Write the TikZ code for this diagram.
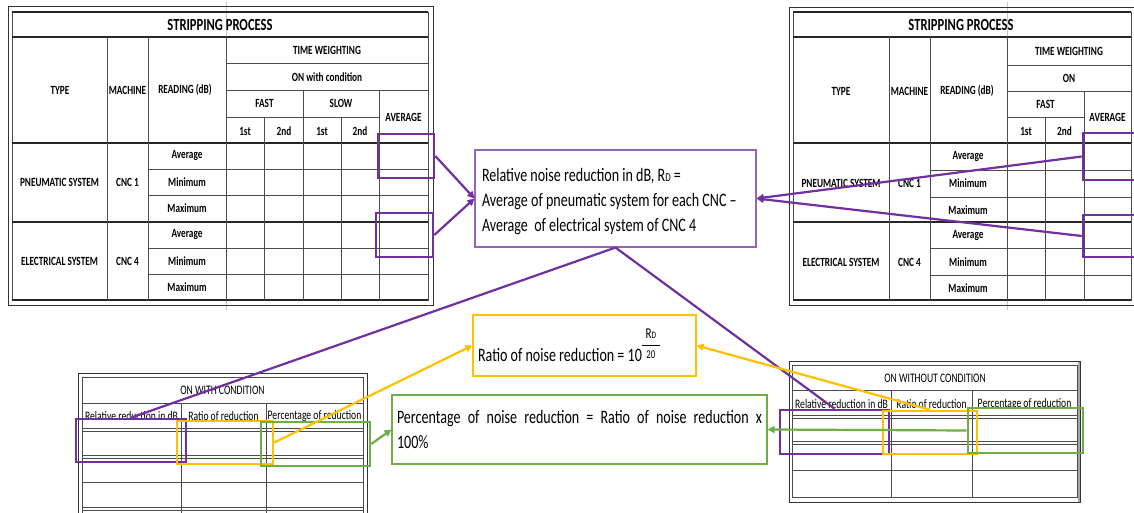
\documentclass[tikz,border=0pt]{standalone}
\usepackage{fontspec}
\setmainfont[FakeStretch=0.74]{Carlito}
\usetikzlibrary{arrows.meta}
\definecolor{purp}{RGB}{112,48,160}
\definecolor{gold}{RGB}{255,192,0}
\definecolor{grn}{RGB}{112,173,71}
\newcommand{\natspace}{\spaceskip=0pt\xspaceskip=0pt\relax}
\begin{document}
\begin{tikzpicture}[x=1pt,y=-1pt,
  gl/.style={draw=black!70, line width=0.7pt},
  tl/.style={draw=black!85, line width=1.3pt},
  fr/.style={draw=black!80, line width=1pt},
  faint/.style={draw=black!22, line width=0.6pt},
  hd/.style={font=\fontsize{12.5}{14}\selectfont\bfseries, inner sep=0pt, text=black},
  ttl/.style={font=\fontsize{17}{19}\selectfont\bfseries, inner sep=0pt},
  sm/.style={font=\fontsize{13}{15}\selectfont, inner sep=0pt},
  hbox/.style={draw=#1, line width=2.6pt, inner sep=0pt},
  conn/.style={draw=#1, line width=2.2pt},
  arr/.style={-{Triangle[length=7pt,width=7pt]}},
  txtbox/.style={draw=#1, line width=1.1pt, font=\fontsize{19}{25}\selectfont, inner ysep=0pt}
]
\useasboundingbox (0,0) rectangle (1134,513);
\fill[white] (0,0) rectangle (1134,513);

% ---------------- left top table ----------------
\draw[faint] (226,2) -- (226,310);
\draw[fr] (8,7) rectangle (433,305);
\draw[gl] (12,12) rectangle (428,300);
\draw[tl] (12,12) -- (428,12);
\foreach \y in {37,143,222,300} \draw[tl] (12,\y) -- (428,\y);
\foreach \x in {107,148,226} \draw[gl] (\x,37) -- (\x,300);
\foreach \x in {264,341} \draw[gl] (\x,117) -- (\x,300);
\foreach \x in {303,379} \draw[gl] (\x,90) -- (\x,300);
\draw[gl] (226,63) -- (428,63);
\draw[gl] (226,90) -- (428,90);
\draw[gl] (226,117) -- (379,117);
\foreach \y in {169,195,248,274} \draw[gl] (148,\y) -- (428,\y);

\node[ttl] (lt0) at (220,25) {STRIPPING PROCESS};
\node[hd] (lt1) at (60,90) {TYPE};
\node[hd] (lt2) at (127.5,90) {MACHINE};
\node[hd] (lt3) at (185,90) {READING (dB)};
\node[hd] (lt4) at (327,50) {TIME WEIGHTING};
\node[hd] (lt5) at (327,77) {ON with condition};
\node[hd] (lt6) at (264.5,103) {FAST};
\node[hd] (lt7) at (341,103) {SLOW};
\node[hd] (lt8) at (403.5,117) {AVERAGE};
\node[hd] (lt9) at (245,131) {1st};
\node[hd] (lt10) at (284,131) {2nd};
\node[hd] (lt11) at (322,131) {1st};
\node[hd] (lt12) at (360,131) {2nd};
\node[hd] (lt13) at (59.5,182) {PNEUMATIC SYSTEM};
\node[hd] (lt14) at (127.5,182) {CNC 1};
\node[hd] (lt15) at (187,156) {Average};
\node[hd] (lt16) at (187,182) {Minimum};
\node[hd] (lt17) at (187,208) {Maximum};
\node[hd] (lt18) at (59.5,261) {ELECTRICAL SYSTEM};
\node[hd] (lt19) at (127.5,261) {CNC 4};
\node[hd] (lt20) at (187,235) {Average};
\node[hd] (lt21) at (187,261) {Minimum};
\node[hd] (lt22) at (187,287) {Maximum};

% ---------------- right top table ----------------
\draw[faint] (1007,2) -- (1007,310);
\draw[fr] (789,8) rectangle (1137,305);
\draw[gl] (793,12) rectangle (1131,300);
\draw[tl] (793,12) -- (1131,12);
\foreach \y in {37,143,222,300} \draw[tl] (793,\y) -- (1131,\y);
\foreach \x in {889,930,1007} \draw[gl] (\x,37) -- (\x,300);
\draw[gl] (1045,117) -- (1045,300);
\draw[gl] (1084,91) -- (1084,300);
\draw[gl] (1007,65) -- (1131,65);
\draw[gl] (1007,91) -- (1131,91);
\draw[gl] (1007,117) -- (1084,117);
\foreach \y in {170,197,248,275} \draw[gl] (930,\y) -- (1131,\y);

\node[ttl] (rt0) at (961,25) {STRIPPING PROCESS};
\node[hd] (rt1) at (841,91) {TYPE};
\node[hd] (rt2) at (909.5,91) {MACHINE};
\node[hd] (rt3) at (967,91) {READING (dB)};
\node[hd] (rt4) at (1069,51) {TIME WEIGHTING};
\node[hd] (rt5) at (1069,78) {ON};
\node[hd] (rt6) at (1045.5,104) {FAST};
\node[hd] (rt7) at (1107.5,117) {AVERAGE};
\node[hd] (rt8) at (1026,131) {1st};
\node[hd] (rt9) at (1064.5,131) {2nd};
\node[hd] (rt10) at (841,183) {PNEUMATIC SYSTEM};
\node[hd] (rt11) at (909.5,183) {CNC 1};
\node[hd] (rt12) at (968,157) {Average};
\node[hd] (rt13) at (968,183) {Minimum};
\node[hd] (rt14) at (968,210) {Maximum};
\node[hd] (rt15) at (841,262) {ELECTRICAL SYSTEM};
\node[hd] (rt16) at (909.5,262) {CNC 4};
\node[hd] (rt17) at (968,236) {Average};
\node[hd] (rt18) at (968,262) {Minimum};
\node[hd] (rt19) at (968,288) {Maximum};

% ---------------- bottom left table ----------------
\draw[fr] (78,520) -- (78,373) -- (367,373) -- (367,520);
\draw[gl] (82,520) -- (82,377) -- (363,377) -- (363,520);
\foreach \y in {403,428,431,455,458,482,507,510} \draw[gl] (82,\y) -- (363,\y);
\foreach \x in {181,266} \draw[gl] (\x,403) -- (\x,520);
\node[sm] (bl0) at (222.5,390) {ON WITH CONDITION};
\node[sm] (bl1) at (131.5,416) {Relative reduction in dB};
\node[sm] (bl2) at (223.5,416) {Ratio of reduction};
\node[sm] (bl3) at (314.5,416) {Percentage of reduction};

% ---------------- bottom right table ----------------
\draw[fr] (789,361) rectangle (1080,502);
\draw[gl] (792,365) rectangle (1077,497);
\draw[draw=black!35, line width=2pt] (1079,362) -- (1079,502);
\foreach \y in {390,415,418,441,444,470} \draw[gl] (792,\y) -- (1077,\y);
\foreach \x in {891,972} \draw[gl] (\x,390) -- (\x,497);
\node[sm] (br0) at (935,378) {ON WITHOUT CONDITION};
\node[sm] (br1) at (841.5,404) {Relative reduction in dB};
\node[sm] (br2) at (931.5,404) {Ratio of reduction};
\node[sm] (br3) at (1024.5,404) {Percentage of reduction};

% ---------------- text boxes ----------------
\node[txtbox=purp!75, text width=267pt, align=left, inner xsep=7pt,
      minimum width=281pt, minimum height=97pt] (RD) at (615.5,198.5)
  {\natspace\rule{0pt}{19pt}Relative noise reduction in dB, R{\fontsize{12}{12}\selectfont D} =\\
   Average of pneumatic system for each CNC --\\
   Average~ of electrical system of CNC 4};

\node[txtbox=gold, text width=213pt, align=left, inner xsep=5pt,
      minimum width=223pt, minimum height=61pt] (RT) at (584.5,345.5)
  {\natspace Ratio of noise reduction = 10\raisebox{3pt}{\vbox{%
     \hbox to 18pt{\hss\fontsize{15}{15}\selectfont R{\fontsize{10}{10}\selectfont D}\hss}%
     \kern6pt\hrule\kern6pt
     \hbox to 18pt{\hss\fontsize{12}{12}\selectfont 20\hss}}}};

\node[txtbox=grn, text width=365pt, align=justify, inner xsep=5pt,
      minimum width=375pt, minimum height=69pt] (PC) at (579.5,429.5)
  {\natspace Percentage of noise reduction = Ratio of noise reduction x\linebreak 100\%};

% ---------------- highlight boxes ----------------
\node[hbox=purp, minimum width=56pt, minimum height=44pt] (LP1) at (406,156) {};
\node[hbox=purp, minimum width=57pt, minimum height=44pt] (LP2) at (404.5,235) {};
\node[hbox=purp, minimum width=53pt, minimum height=47pt] (RP1) at (1109.5,156.5) {};
\node[hbox=purp, minimum width=53pt, minimum height=42pt] (RP2) at (1109.5,236) {};

\node[hbox=purp, minimum width=110pt, minimum height=43pt] (LB) at (131,440.5) {};
\node[hbox=gold, minimum width=96pt, minimum height=43pt] (LY) at (225,442.5) {};
\node[hbox=grn, minimum width=109pt, minimum height=44pt] (LG) at (315.5,444) {};

\node[hbox=purp, minimum width=109pt, minimum height=44pt] (RB) at (834.5,432) {};
\node[hbox=gold, minimum width=94pt, minimum height=43pt] (RY) at (930,432.5) {};
\node[hbox=grn, minimum width=115pt, minimum height=45pt] (RG) at (1025.5,430.5) {};

% ---------------- connectors ----------------
\draw[conn=purp, arr] (LP1.east) -- (RD.west);
\draw[conn=purp, arr] (LP2.east) -- (RD.west);
\draw[conn=purp, arr] (RP1.west) -- (RD.east);
\draw[conn=purp, arr] (RP2.west) -- (RD.east);
\draw[conn=purp] (RD.south) -- (LB.north);
\draw[conn=purp] (RD.south) -- (RB.north);
\draw[conn=gold, arr] (LY.east) -- (RT.west);
\draw[conn=gold, arr] (RY.north) -- (RT.east);
\draw[conn=grn, arr] (LG.east) -- (PC.west);
\draw[conn=grn, arr] (RG.west) -- (PC.east);
\end{tikzpicture}
\end{document}
